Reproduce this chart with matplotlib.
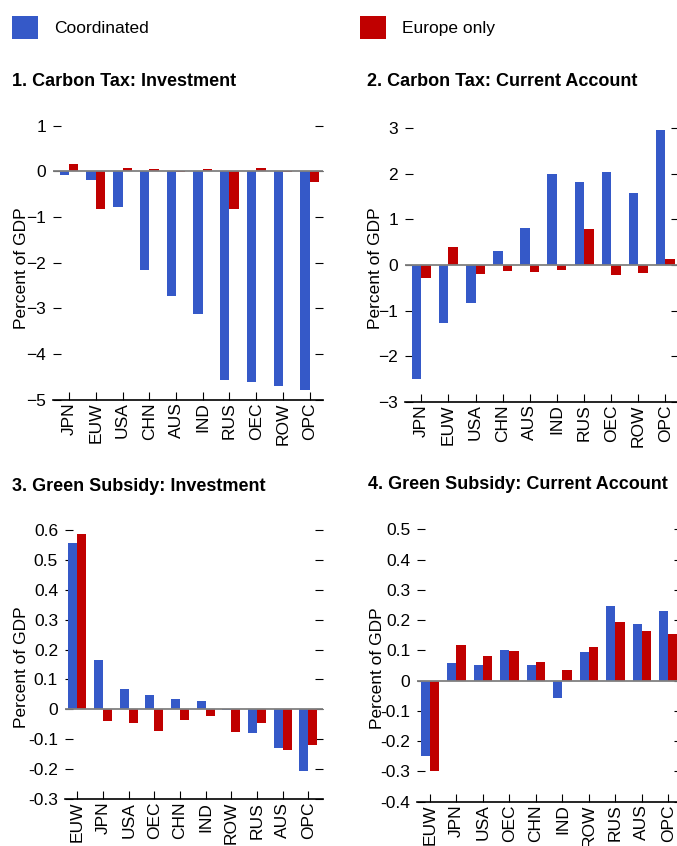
import numpy as np
import matplotlib
matplotlib.use("Agg")
import matplotlib.pyplot as plt
from matplotlib.ticker import MultipleLocator, FuncFormatter

plt.rcParams['font.family'] = ['Liberation Sans', 'DejaVu Sans']

BLUE = '#3559C8'
RED = '#C00000'

# panel 1: carbon tax, investment
regions_ct = ['JPN', 'EUW', 'USA', 'CHN', 'AUS', 'IND', 'RUS', 'OEC', 'ROW', 'OPC']
ct_inv_coord = [-0.07, -0.20, -0.79, -2.15, -2.72, -3.12, -4.56, -4.62, -4.71, -4.78]
ct_inv_europe = [0.17, -0.82, 0.08, 0.06, -0.02, 0.06, -0.83, 0.08, -0.02, -0.24]

# panel 2: carbon tax, current account
ct_ca_coord = [-2.51, -1.28, -0.84, 0.31, 0.82, 2.00, 1.83, 2.05, 1.57, 2.97]
ct_ca_europe = [-0.29, 0.40, -0.20, -0.14, -0.16, -0.12, 0.80, -0.23, -0.18, 0.14]

# panel 3: green subsidy, investment
regions_gs = ['EUW', 'JPN', 'USA', 'OEC', 'CHN', 'IND', 'ROW', 'RUS', 'AUS', 'OPC']
gs_inv_coord = [0.558, 0.165, 0.069, 0.049, 0.036, 0.029, -0.003, -0.080, -0.130, -0.207]
gs_inv_europe = [0.585, -0.040, -0.047, -0.074, -0.037, -0.023, -0.077, -0.047, -0.137, -0.120]

# panel 4: green subsidy, current account
gs_ca_coord = [-0.248, 0.058, 0.052, 0.101, 0.052, -0.056, 0.095, 0.247, 0.187, 0.230]
gs_ca_europe = [-0.297, 0.118, 0.081, 0.098, 0.062, 0.035, 0.111, 0.194, 0.164, 0.154]

W, H = 677, 846
fig = plt.figure(figsize=(W / 100, H / 100), dpi=100)


def px_axes(left, top, right, bottom):
    return fig.add_axes([left / W, 1 - bottom / H, (right - left) / W, (bottom - top) / H])


def draw_panel(ax, cats, coord, europe, xlim, ylim, step, fmt=None):
    x = np.arange(len(cats))
    bw = 0.35
    b1 = ax.bar(x - bw / 2, coord, bw, color=BLUE, zorder=2, label='Coordinated')
    b2 = ax.bar(x + bw / 2, europe, bw, color=RED, zorder=2, label='Europe only')
    ax.axhline(0, color='#808080', lw=1.3, zorder=3)
    ax.set_xlim(*xlim)
    ax.set_ylim(*ylim)
    ax.set_xticks(x)
    ax.set_xticklabels(cats, rotation=90, fontsize=12.5)
    ax.yaxis.set_major_locator(MultipleLocator(step))
    if fmt:
        ax.yaxis.set_major_formatter(FuncFormatter(fmt))
    ax.tick_params(axis='y', direction='in', length=6, right=True, labelright=False,
                   labelsize=12.5, pad=5)
    ax.tick_params(axis='x', direction='in', length=6, pad=2)
    for s in ['top', 'left', 'right']:
        ax.spines[s].set_visible(False)
    ax.spines['bottom'].set_linewidth(1.2)
    return b1, b2


def dec_fmt(v, pos):
    if abs(v) < 1e-9:
        return '0'
    return f'{v:.1f}'


ax1 = px_axes(53, 109.7, 323, 399.7)
handles = draw_panel(ax1, regions_ct, ct_inv_coord, ct_inv_europe, (-0.6, 9.5), (-5, 1.35), 1)

ax2 = px_axes(405, 114.6, 679, 401.7)
draw_panel(ax2, regions_ct, ct_ca_coord, ct_ca_europe, (-0.6, 9.5), (-3, 3.3), 1)

ax3 = px_axes(65, 515, 322.7, 799)
draw_panel(ax3, regions_gs, gs_inv_coord, gs_inv_europe, (-0.48, 9.56), (-0.3, 0.65), 0.1, dec_fmt)

ax4 = px_axes(417.3, 514.2, 681.6, 801.7)
draw_panel(ax4, regions_gs, gs_ca_coord, gs_ca_europe, (-0.48, 9.5), (-0.4, 0.55), 0.1, dec_fmt)

# titles
titles = ['1. Carbon Tax: Investment', '2. Carbon Tax: Current Account',
          '3. Green Subsidy: Investment', '4. Green Subsidy: Current Account']
title_pos = [(12, 82), (367, 82), (12, 486), (368, 484)]
for t, (tx, ty) in zip(titles, title_pos):
    fig.text(tx / W, 1 - ty / H, t, fontsize=13, fontweight='bold', ha='left', va='center')

# y labels
for (lx, ly) in [(22, 268), (375, 268), (22, 667), (377, 668)]:
    fig.text(lx / W, 1 - ly / H, 'Percent of GDP', rotation=90, fontsize=12.5,
             ha='center', va='center')

fig.legend(handles, ['Coordinated', 'Europe only'], loc='upper left',
           bbox_to_anchor=(12 / W, 1 - 16 / H), ncol=2, frameon=False,
           fontsize=12.5, handlelength=1.5, handleheight=1.7, handletextpad=0.9,
           columnspacing=12.2, borderpad=0, borderaxespad=0)

fig.savefig('out.png', dpi=100)
